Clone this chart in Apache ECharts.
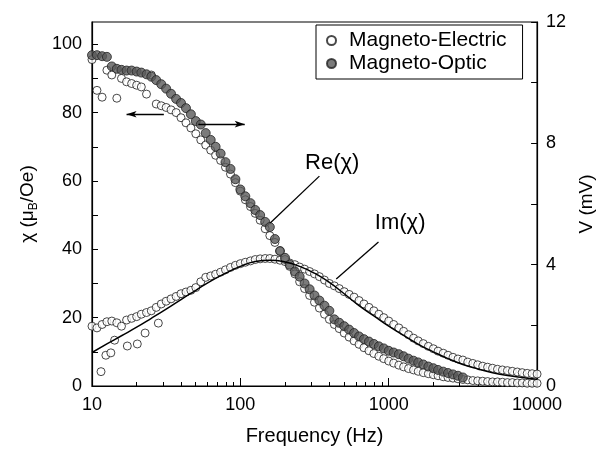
<!DOCTYPE html>
<html>
<head>
<meta charset="utf-8">
<script src="https://cdn.jsdelivr.net/npm/echarts@6/dist/echarts.min.js"></script>
<style>
  html, body { margin: 0; padding: 0; background: #fff; }
  #chart { width: 604px; height: 455px; }
</style>
</head>
<body>
<div id="chart"></div>
<script>
// frequency grid (Hz), 30 points per decade
const freqs = [
  10, 10.8, 11.7, 12.6, 13.6, 14.7, 15.8, 17.1, 18.5, 20,
  21.5, 23.3, 25.1, 27.1, 29.3, 31.6, 34.1, 36.9, 39.8, 43,
  46.4, 50.1, 54.1, 58.4, 63.1, 68.1, 73.6, 79.4, 85.8, 92.6,
  100, 108, 117, 126, 136, 147, 158, 171, 185, 200,
  215, 233, 251, 271, 293, 316, 341, 369, 398, 430,
  464, 501, 541, 584, 631, 681, 736, 794, 858, 926,
  1000, 1080, 1170, 1260, 1360, 1470, 1580, 1710, 1850, 2000,
  2150, 2330, 2510, 2710, 2930, 3160, 3410, 3690, 3980, 4300,
  4640, 5010, 5410, 5840, 6310, 6810, 7360, 7940, 8580, 9260, 10000
]

// Magneto-Electric, Re(chi)
const meRe = [
  95.5, 86.5, 84.5, 92.4, 91, 84.2, 90, 89, 88.5, 88,
  87.5, 85.4, 91, 82.5, 82, 81.5, 80.8, 80, 78.5, 77,
  75.5, 73.8, 72, 70.5, 69, 67.5, 66, 64, 62, 59.5,
  57, 54.5, 52.5, 50.5, 48.5, 46, 44, 42, 39.5, 37,
  35, 32.8, 30.5, 28.5, 26.5, 24.5, 22.8, 21, 19.5, 18,
  16.8, 15.5, 14.3, 13.2, 12.2, 11.2, 10.3, 9.5, 8.7, 8,
  7.3, 6.7, 6.1, 5.6, 5.1, 4.7, 4.3, 3.9, 3.6, 3.3,
  3.0, 2.7, 2.5, 2.3, 2.1, 1.9, 1.8, 1.6, 1.5, 1.4,
  1.3, 1.2, 1.2, 1.1, 1.0, 1.0, 0.9, 0.9, 0.8, 0.8, 0.8
]

// Magneto-Electric, Im(chi)
const meIm = [
  17.5, 17, 18, 18.8, 19, 18.5, 17.5, 19.3, 19.8, 20.3,
  21, 21.5, 22, 23, 24, 24.8, 25.5, 26.2, 27, 27.5,
  28, 28.8, 30.5, 31.8, 32.2, 32.7, 33.3, 34, 34.7, 35.3,
  35.8, 36.2, 36.6, 37, 37.2, 37.3, 37.3, 37.1, 36.8, 36.4,
  36, 35.5, 34.8, 34.2, 33.5, 32.8, 32, 31, 30, 29.3,
  28.5, 27.6, 26.8, 26, 25, 24, 23, 22, 21, 20,
  19, 18, 17, 16, 15, 14, 13.2, 12.4, 11.6, 10.9,
  10.2, 9.6, 9, 8.4, 7.9, 7.6, 7, 6.6, 6.2, 5.8,
  5.5, 5.2, 4.9, 4.7, 4.5, 4.3, 4.1, 3.9, 3.7, 3.6, 3.5
]

// scattered low-frequency Im(chi) points
const meImLowFreq = [11.5, 12.4, 13.4, 14.2, 17.3, 20.2, 22.8, 28]
const meImLow = [4.2, 9, 9.7, 13.4, 11.7, 12.3, 15.5, 18.4]

// Magneto-Optic, Re(chi) (stops at ~3 kHz)
const moRe = [
  96.8, 96.8, 96.5, 96.3, 93.5, 92.8, 92.5, 92.3, 92.3, 92,
  91.7, 91.2, 90.5, 89.5, 88.3, 87, 85.5, 84, 82.8, 81.3,
  79.5, 77.5, 76.5, 74, 72, 70, 68, 65.5, 63.5, 60.5,
  57.5, 55.5, 53.5, 51.5, 50, 48, 46.5, 43, 39.5, 37.5,
  35.5, 33.5, 32, 30, 28.3, 26.5, 25, 23.5, 22, 19.5,
  18.5, 17.5, 16.5, 15.5, 14.5, 13.7, 13, 12.3, 11.6, 11,
  10.3, 9.8, 9.3, 8.7, 8, 7.4, 6.9, 6.3, 5.7, 5.2,
  4.7, 4.2, 3.8, 3.4, 3, 2.5
]

// fit line through Im(chi)
const fitFreq = [10, 12.6, 15.8, 20, 25.1, 31.6, 39.8, 50.1, 63.1, 79.4, 100, 126, 158, 200, 251, 316, 398, 501, 631, 794, 1000, 1259, 1585, 1995, 2512, 3162, 3981, 5012, 6310, 7943, 10000]
const fitIm = [9.8, 12.3, 14.7, 17.2, 19.8, 22.5, 25.3, 28, 30.7, 33, 35, 36.4, 36.8, 36.3, 35, 33, 30.3, 27, 23.5, 20.5, 17.5, 14.8, 12.2, 10, 8, 6.3, 5, 3.9, 3.1, 2.5, 2.0]

const leftTicks = [0, 10, 20, 30, 40, 50, 60, 70, 80, 90, 100]
const leftLabels = [0, 20, 40, 60, 80, 100]
const rightTicks = [0, 2, 4, 6, 8, 10, 12]
const rightLabels = [0, 4, 8, 12]
const minorFreqTicks = [20, 30, 40, 50, 60, 70, 80, 90, 200, 300, 400, 500, 600, 700, 800, 900, 2000, 3000, 4000, 5000, 6000, 7000, 8000, 9000]

const pair = (xs, ys) => ys.map((v, i) => [xs[i], v])

const font = 'Liberation Sans, Arial, sans-serif'
const openCircle = { color: '#fff', borderColor: '#1a1a1a', borderWidth: 1 }
const filledCircle = { color: '#5a5a5a', borderColor: '#222', borderWidth: 1 }

const chart = echarts.init(document.getElementById('chart'))
chart.setOption({
  animation: false,
  textStyle: { fontFamily: font, color: '#000' },
  grid: { left: 92, right: 61, top: 22, bottom: 69, show: true, borderColor: '#000', borderWidth: 1.2, backgroundColor: 'transparent' },
  legend: {
    data: ['Magneto-Electric', 'Magneto-Optic'],
    orient: 'vertical',
    left: 316,
    top: 25,
    padding: [5, 16, 5, 10],
    itemGap: 2,
    itemWidth: 9,
    itemHeight: 9,
    borderColor: '#000',
    borderWidth: 1,
    textStyle: { fontSize: 21, fontFamily: font, color: '#000', padding: [0, 0, 0, 8] }
  },
  xAxis: [{
    type: 'log',
    logBase: 10,
    min: 10,
    max: 10000,
    name: 'Frequency (Hz)',
    nameLocation: 'middle',
    nameGap: 40,
    nameTextStyle: { fontSize: 20, fontFamily: font, color: '#000' },
    axisLine: { lineStyle: { color: '#000', width: 1.2 } },
    axisTick: { inside: true, length: 8, lineStyle: { color: '#000' } },
    axisLabel: { fontSize: 18, color: '#000', margin: 10, formatter: v => String(Math.round(v)) },
    splitLine: { show: false }
  }, {
    type: 'log',
    logBase: 10,
    min: 10,
    max: 10000,
    position: 'bottom',
    axisLine: { show: false },
    axisLabel: { show: false },
    axisTick: { inside: true, length: 4, customValues: minorFreqTicks, lineStyle: { color: '#000' } },
    splitLine: { show: false }
  }],
  yAxis: [{
    type: 'value',
    min: 0,
    max: 106.5,
    name: '{a|χ (μ}{b|B}{a|/Oe)}',
    nameLocation: 'middle',
    nameGap: 52,
    nameTextStyle: {
      rich: {
        a: { fontSize: 19, fontFamily: font, color: '#000' },
        b: { fontSize: 12, fontFamily: font, color: '#000', padding: [12, 0, 0, 0] }
      }
    },
    axisLine: { show: true, lineStyle: { color: '#000', width: 1.2 } },
    axisTick: { show: true, inside: true, length: 6, customValues: leftTicks, lineStyle: { color: '#000' } },
    axisLabel: { fontSize: 18, color: '#000', margin: 10, customValues: leftLabels },
    splitLine: { show: false }
  }, {
    type: 'value',
    min: 0,
    max: 12,
    position: 'right',
    name: 'V (mV)',
    nameLocation: 'middle',
    nameGap: 30,
    nameRotate: 90,
    nameTextStyle: { fontSize: 19, fontFamily: font, color: '#000' },
    axisLine: { show: true, lineStyle: { color: '#000', width: 1.2 } },
    axisTick: { show: true, inside: true, length: 6, customValues: rightTicks, lineStyle: { color: '#000' } },
    axisLabel: { fontSize: 18, color: '#000', margin: 9, customValues: rightLabels },
    splitLine: { show: false }
  }],
  series: [
    {
      name: 'Magneto-Electric',
      type: 'scatter',
      symbol: 'circle',
      symbolSize: 8,
      itemStyle: openCircle,
      data: pair(meImLowFreq, meImLow)
    },
    {
      name: 'Magneto-Electric',
      type: 'scatter',
      symbol: 'circle',
      symbolSize: 8,
      itemStyle: openCircle,
      data: pair(freqs, meIm)
    },
    {
      name: 'Magneto-Electric',
      type: 'scatter',
      symbol: 'circle',
      symbolSize: 8,
      itemStyle: openCircle,
      data: pair(freqs, meRe)
    },
    {
      name: 'fit',
      type: 'line',
      smooth: true,
      symbol: 'none',
      lineStyle: { color: '#000', width: 1.5 },
      data: pair(fitFreq, fitIm),
      markLine: {
        silent: true,
        symbol: 'none',
        label: { show: false },
        lineStyle: { color: '#000', width: 1.3, type: 'solid' },
        data: [
          [{ coord: [341, 61.4] }, { coord: [159, 47.7] }],
          [{ coord: [853, 42.1] }, { coord: [443, 31.3] }],
          [{ coord: [30.5, 79.5] }, { coord: [17.1, 79.5], symbol: 'arrow', symbolSize: [5, 10] }],
          [{ coord: [52.1, 76.6] }, { coord: [107, 76.6], symbol: 'arrow', symbolSize: [5, 10] }]
        ]
      },
      markPoint: {
        silent: true,
        symbol: 'circle',
        symbolSize: 0,
        label: { show: true, position: 'inside', formatter: '{b}', fontSize: 22, fontFamily: font, color: '#000' },
        data: [
          { name: 'Re(χ)', coord: [416, 65.2] },
          { name: 'Im(χ)', coord: [1194, 47.7] }
        ]
      }
    },
    {
      name: 'Magneto-Optic',
      type: 'scatter',
      symbol: 'circle',
      symbolSize: 9,
      itemStyle: filledCircle,
      data: pair(freqs, moRe)
    }
  ]
})
</script>
</body>
</html>
